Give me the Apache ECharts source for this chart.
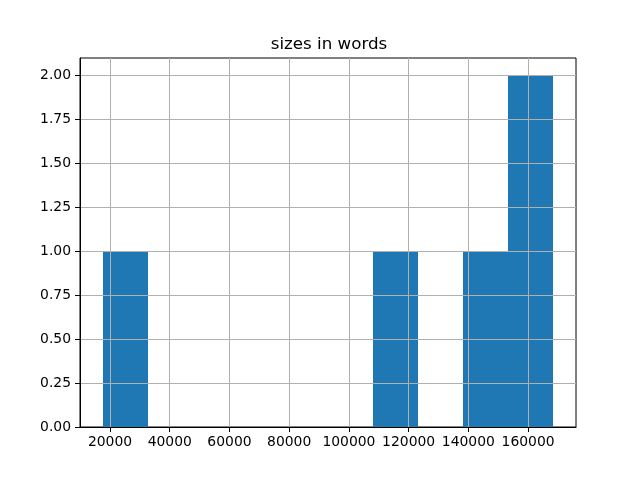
<!DOCTYPE html>
<html><head><meta charset="utf-8">
<script src="https://cdn.jsdelivr.net/npm/echarts@6/dist/echarts.min.js"></script>
<style>html,body{margin:0;padding:0;background:#fff}#c{width:640px;height:480px}</style>
</head><body><div id="c"></div>
<script>
const binEdges = [17500, 32600, 47700, 62800, 77900, 93000, 108100, 123200, 138300, 153400, 168500];
const counts = [1, 0, 0, 0, 0, 0, 1, 0, 1, 2];
const xTicks = [20000, 40000, 60000, 80000, 100000, 120000, 140000, 160000];
const yTicks = [0, 0.25, 0.5, 0.75, 1.0, 1.25, 1.5, 1.75, 2.0];
const title = 'sizes in words';

const span = binEdges[binEdges.length - 1] - binEdges[0];
const xMin = binEdges[0] - span * 0.05;
const xMax = binEdges[binEdges.length - 1] + span * 0.05;
const yMax = Math.max(...counts) * 1.05;

const data = counts.map((c, i) => [binEdges[i], binEdges[i + 1], c]);
const font = 'DejaVu Sans';
const chart = echarts.init(document.getElementById('c'), null, {renderer: 'canvas'});
chart.setOption({
  animation: false,
  title: {text: title, left: 324, top: 31, textAlign: 'center',
    textStyle: {fontFamily: font, fontSize: 16.7, fontWeight: 'normal', color: '#000'}},
  grid: {left: 80, right: 64, top: 58, bottom: 53, show: true, borderColor: '#000', borderWidth: 1, backgroundColor: 'transparent', containLabel: false},
  xAxis: {
    type: 'value', min: xMin, max: xMax, z: 10,
    axisLine: {show: true, onZero: false, lineStyle: {color: '#000', width: 1}},
    axisTick: {show: true, inside: false, length: 5, lineStyle: {color: '#000'}, customValues: xTicks},
    axisLabel: {customValues: xTicks, margin: 8, fontFamily: font, fontSize: 13.9, color: '#000', formatter: v => String(Math.round(v))},
    splitLine: {show: true, lineStyle: {color: '#b0b0b0', width: 1}}
  },
  yAxis: {
    type: 'value', min: 0, max: yMax, z: 10,
    axisLine: {show: true, lineStyle: {color: '#000', width: 1}},
    axisTick: {show: true, inside: false, length: 5, lineStyle: {color: '#000'}, customValues: yTicks},
    axisLabel: {customValues: yTicks, margin: 9, fontFamily: font, fontSize: 13.9, color: '#000', formatter: v => v.toFixed(2)},
    splitLine: {show: true, lineStyle: {color: '#b0b0b0', width: 1}}
  },
  series: [{
    type: 'custom', z: 2,
    renderItem: function (params, api) {
      if (!api.value(2)) return null;
      const p0 = api.coord([api.value(0), api.value(2)]);
      const p1 = api.coord([api.value(1), 0]);
      const x0 = Math.round(p0[0]), x1 = Math.round(p1[0]);
      const y0 = Math.round(p0[1]), y1 = Math.round(p1[1]);
      return {type: 'rect', shape: {x: x0, y: y0, width: x1 - x0, height: y1 - y0},
        style: {fill: '#1f77b4'}};
    },
    encode: {x: [0, 1], y: 2},
    data: data
  }]
});
</script></body></html>
